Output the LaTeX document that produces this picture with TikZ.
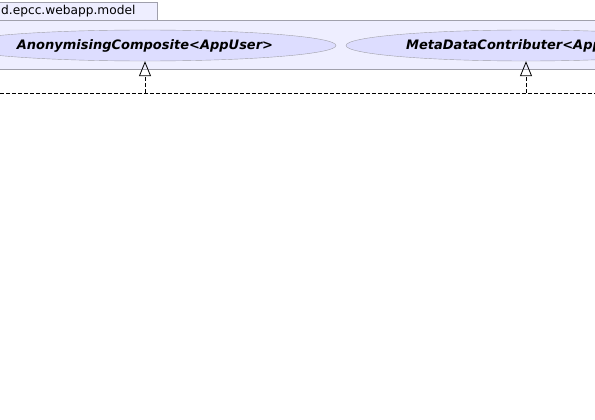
\documentclass[tikz,border=0pt]{standalone}
\usepackage{fontspec}
\setmainfont{DejaVu Sans}
\usetikzlibrary{shapes.geometric,arrows.meta}
\definecolor{pkgfill}{HTML}{EEEEFF}
\definecolor{pkgline}{HTML}{A0A0AC}
\definecolor{ucfill}{HTML}{DDDDFF}
\definecolor{ucline}{HTML}{A0A0A8}

\begin{document}
\begin{tikzpicture}[x=1pt, y=-1pt,
        pkg/.style={draw=pkgline, fill=pkgfill, line width=0.8pt},
        tabtext/.style={anchor=west, inner sep=0pt, font=\fontsize{12.2}{14}\selectfont},
        usecase/.style={ellipse, draw=ucline, fill=ucfill, inner sep=0pt, minimum height=31pt, font=\fontsize{13}{15}\selectfont\bfseries\itshape},
        uclabel/.style={anchor=west, inner sep=0pt, font=\fontsize{13}{15}\selectfont\bfseries\itshape},
        realize/.style={-{Triangle[open, length=15pt, width=12pt]}, line width=0.8pt, dash pattern=on 4pt off 2pt}
    ]
        \useasboundingbox (0,0) rectangle (595,420);
        \clip (0,0) rectangle (595,420);
        \fill[white] (0,0) rectangle (595,420);

        \draw[pkg] (-10,20) rectangle (620,69);
        \draw[pkg] (-10,2) rectangle (157,20);
        \node[tabtext] (pkgname) at (1,11) {d.epcc.webapp.model};

        \node[usecase, minimum width=382pt] (anon) at (145,45.5) {AnonymisingComposite<AppUser>};
        \node[usecase, minimum width=360pt] (mdc) at (526,45.5) {};
        \node[uclabel] (mdclabel) at (406,45.5) {MetaDataContributer<App};

        \coordinate (left) at (0,93);
        \coordinate (right) at (595,93);
        \coordinate (j1) at (145,93);
        \coordinate (j2) at (526,93);

        \draw[line width=0.8pt, dash pattern=on 4pt off 2pt] (left) -- (right);
        \draw[realize] (j1) -- (anon.south);
        \draw[realize] (j2) -- (mdc.south);
    \end{tikzpicture}
\end{document}
